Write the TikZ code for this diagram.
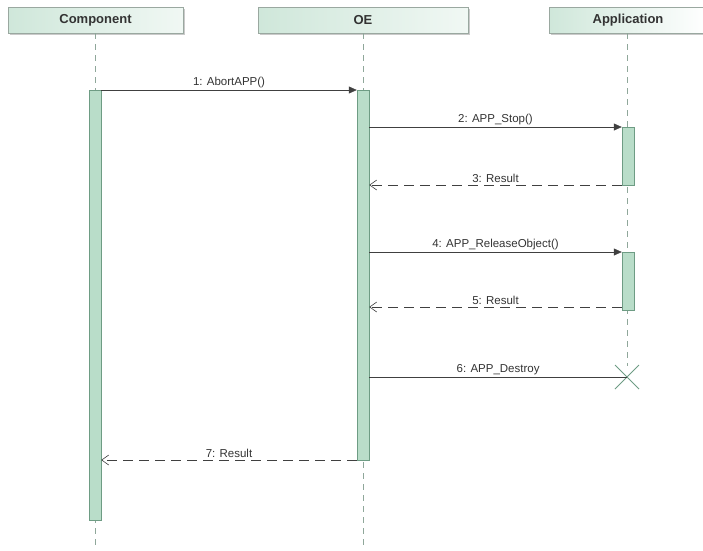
\documentclass[tikz,border=0pt]{standalone}
\usepackage{fontspec}
\setmainfont{Liberation Sans}
\usetikzlibrary{arrows.meta,shadows,calc}
\definecolor{hdrfill}{HTML}{CFE7DA}
\definecolor{hdrline}{HTML}{9AA8A0}
\definecolor{actfill}{HTML}{B9DDC9}
\definecolor{actline}{HTML}{6E9C84}
\definecolor{lifeline}{HTML}{8FA79A}
\definecolor{msgline}{HTML}{404040}
\tikzset{
  hdr/.style={draw=hdrline, left color=hdrfill, right color=hdrfill!30, minimum height=26pt, inner sep=0pt,
    font=\fontsize{13}{15}\selectfont\bfseries, text=black!80,
    drop shadow={shadow xshift=2pt, shadow yshift=-2pt, fill=black!35, opacity=0.6}},
  hdrfade/.style={hdr, right color=white},
  act/.style={draw=actline, fill=actfill, minimum width=12pt, inner sep=0pt},
  life/.style={draw=lifeline, dash pattern=on 6pt off 5pt, line width=0.6pt},
  call/.style={draw=msgline, line width=0.6pt, -{Triangle[length=8pt,width=7pt]}},
  reply/.style={draw=msgline, line width=0.6pt, dash pattern=on 10pt off 6pt, -{Straight Barb[length=7pt,width=10pt]}},
  lbl/.style={font=\fontsize{11.5}{13}\selectfont, text=black!80, above=1pt, inner sep=1pt}
}
\begin{document}
\begin{tikzpicture}[x=1pt,y=-1pt]
\useasboundingbox (0,0) rectangle (703,550);
% lifelines
\coordinate (cBot) at (95,550);
\coordinate (oBot) at (363,550);
\coordinate (aBot) at (627,366);
% headers
\node[hdr, minimum width=175pt] (comp) at (95.5,20) {Component};
\node[hdr, minimum width=210pt] (oe) at (363,20) {OE};
\node[hdrfade, minimum width=158pt] (app) at (628,20) {Application};
\draw[life] (comp.south -| cBot) -- (cBot);
\draw[life] (oe.south -| oBot) -- (oBot);
\draw[life] (app.south -| aBot) -- (aBot);
% activations
\node[act, minimum height=430pt] (cAct) at (95,305) {};
\node[act, minimum height=370pt] (oAct) at (363,275) {};
\node[act, minimum height=58pt] (aAct1) at (628,156) {};
\node[act, minimum height=58pt] (aAct2) at (628,281) {};
% X destroy
\coordinate (xc) at (627,377);
\draw[draw=actline, line width=1pt] ($(xc)+(-12,-12)$) -- ($(xc)+(12,12)$) ($(xc)+(-12,12)$) -- ($(xc)+(12,-12)$);
% messages
\coordinate (m1) at (0,90);
\draw[call] (cAct.east |- m1) -- node[lbl]{1: AbortAPP()} (oAct.west |- m1);
\coordinate (m2) at (0,127);
\draw[call] (oAct.east |- m2) -- node[lbl]{2: APP\_Stop()} (aAct1.west |- m2);
\coordinate (m3) at (0,185);
\draw[reply] (aAct1.west |- m3) -- node[lbl]{3: Result} (oAct.east |- m3);
\coordinate (m4) at (0,252);
\draw[call] (oAct.east |- m4) -- node[lbl]{4: APP\_ReleaseObject()} (aAct2.west |- m4);
\coordinate (m5) at (0,307);
\draw[reply] (aAct2.west |- m5) -- node[lbl]{5: Result} (oAct.east |- m5);
\draw[msgline, line width=0.6pt] (oAct.east |- xc) -- node[lbl]{6: APP\_Destroy} (xc);
\coordinate (m7) at (0,460);
\draw[reply] (oAct.west |- m7) -- node[lbl]{7: Result} (cAct.east |- m7);
\end{tikzpicture}
\end{document}
